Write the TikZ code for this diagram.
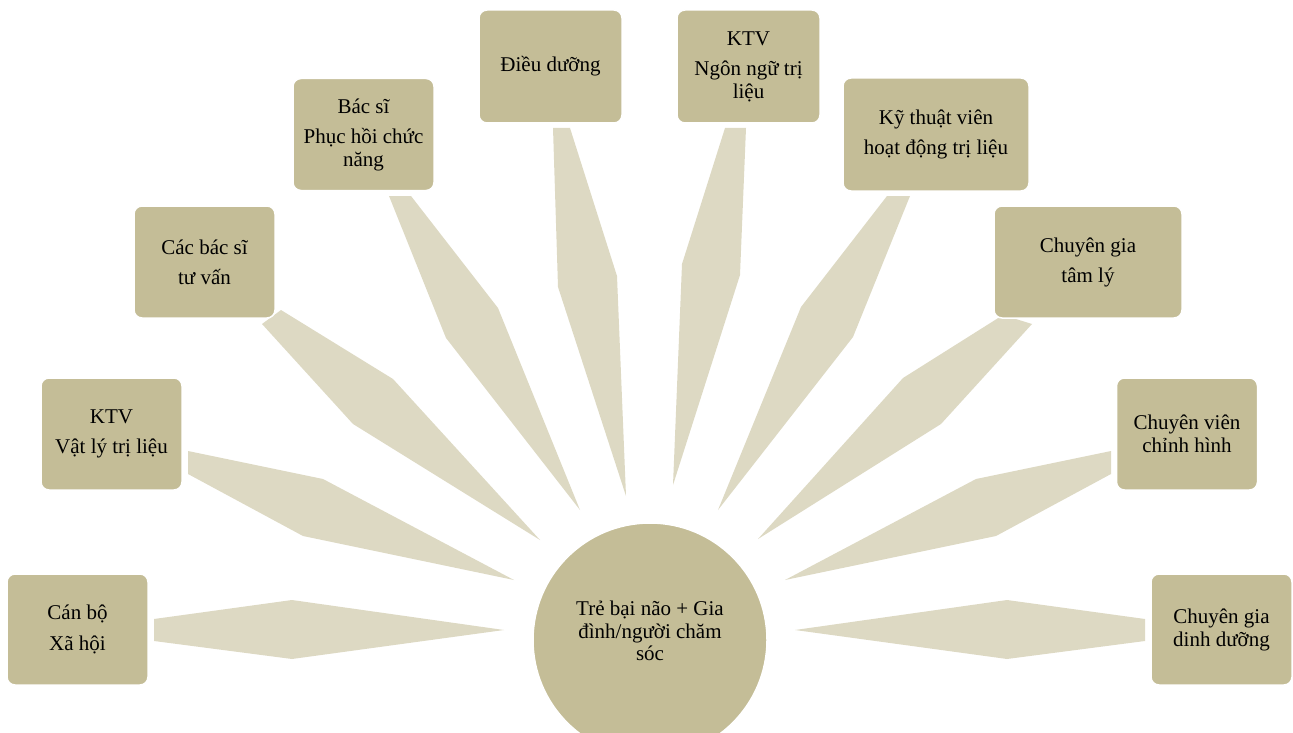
\documentclass[tikz,border=0pt]{standalone}
\usepackage{fontspec}
\setmainfont{Liberation Serif}
\definecolor{boxc}{HTML}{C4BD97}
\definecolor{spikec}{HTML}{DDD9C3}
\tikzset{
  box/.style={rectangle, rounded corners=8pt, fill=boxc, draw=white, line width=1.5pt,
    align=center, inner sep=0pt, text=black, font=\fontsize{21}{23}\selectfont},
  hub/.style={circle, fill=boxc, draw=white, line width=1.5pt, minimum size=234pt, inner sep=0pt},
  hubtext/.style={align=center, inner sep=0pt, font=\fontsize{21}{22.5}\selectfont},
  spike/.style={fill=spikec},
}
\begin{document}
\begin{tikzpicture}[x=1pt,y=-1pt]
\useasboundingbox (0,0) rectangle (1293,733);
\clip (0,0) rectangle (1293,733);
% spikes
\fill[spike] (154,619) -- (292,600) -- (504,630) -- (292,659) -- (154,641) -- cycle;
\fill[spike] (188,451) -- (323,479) -- (514,580) -- (303,536) -- (188,474) -- cycle;
\fill[spike] (281,310) -- (393,379) -- (540,540) -- (353,424) -- (262,324) -- cycle;
\fill[spike] (389,196) -- (411,196) -- (498,308) -- (580,510) -- (446,338) -- cycle;
\fill[spike] (553,128) -- (570,128) -- (617,276) -- (626,496) -- (558,287) -- cycle;
\fill[spike] (725,128) -- (746,128) -- (740,275) -- (673,485) -- (682,264) -- cycle;
\fill[spike] (887,196) -- (910,196) -- (853,337) -- (718,510) -- (801,307) -- cycle;
\fill[spike] (1003,315) -- (1032,324) -- (941,424) -- (758,539) -- (903,378) -- cycle;
\fill[spike] (1111,451) -- (976,479) -- (785,580) -- (996,536) -- (1111,474) -- cycle;
\fill[spike] (1145,619) -- (1007,600) -- (795,630) -- (1007,659) -- (1145,641) -- cycle;
% hub
\node[hub] (c) at (650,640) {};
\node[hubtext] (ct) at (650,631) {Trẻ bại não + Gia\\đình/người chăm\\sóc};
% boxes
\node[box, minimum width=141pt, minimum height=111pt] (b1) at (77.5,629.5) {Cán bộ\\[8pt]Xã hội};
\node[box, minimum width=141pt, minimum height=112pt] (b2) at (111.5,434) {KTV\\[7pt]Vật lý trị liệu};
\node[box, minimum width=141pt, minimum height=112pt] (b3) at (204.5,262) {Các bác sĩ\\[7pt]tư vấn};
\node[box, minimum width=141pt, minimum height=112pt] (b4) at (363.5,134.5) {Bác sĩ\\[7pt]Phục hồi chức\\năng};
\node[box, minimum width=143pt, minimum height=113pt] (b5) at (550.5,66.5) {Điều dưỡng};
\node[box, minimum width=143pt, minimum height=113pt] (b6) at (748.5,66.5) {KTV\\[7pt]Ngôn ngữ trị\\liệu};
\node[box, minimum width=186pt, minimum height=113pt] (b7) at (936,134.5) {Kỹ thuật viên\\[7pt]hoạt động trị liệu};
\node[box, minimum width=188pt, minimum height=112pt] (b8) at (1088,262) {Chuyên gia\\[7pt]tâm lý};
\node[box, minimum width=141pt, minimum height=112pt] (b9) at (1187,434) {Chuyên viên\\chỉnh hình};
\node[box, minimum width=141pt, minimum height=111pt] (b10) at (1221.5,629.5) {Chuyên gia\\dinh dưỡng};
\end{tikzpicture}
\end{document}
